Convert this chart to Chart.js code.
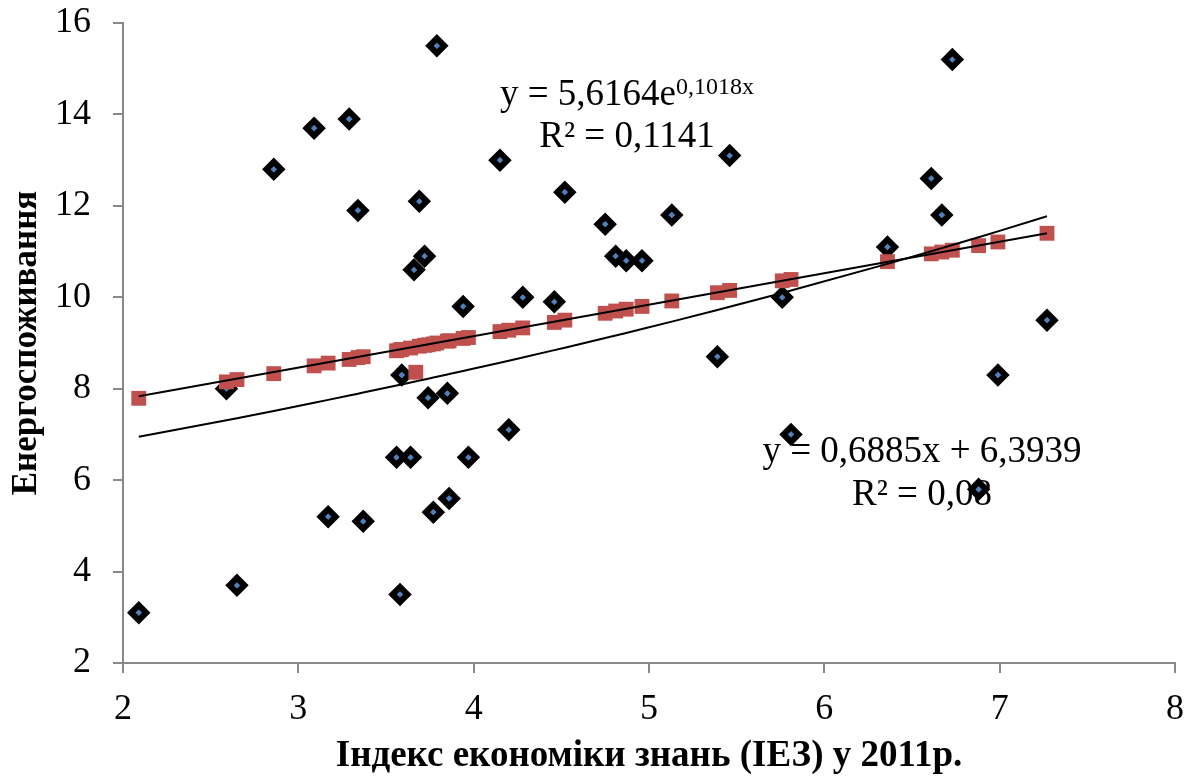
<!DOCTYPE html>
<html><head><meta charset="utf-8">
<script src="https://cdn.jsdelivr.net/npm/chart.js@4/dist/chart.umd.min.js"></script>
<style>html,body{margin:0;padding:0;background:#fff;overflow:hidden}</style>
</head><body>
<canvas id="c" width="1195" height="784"></canvas>
<script>
// Observed data: knowledge economy index (x) vs energy consumption (y)
const knowledgeIndex = [2.09,2.59,2.65,2.86,3.09,3.17,3.29,3.34,3.37,3.56,3.58,3.59,3.64,3.66,3.69,3.72,3.74,3.77,3.79,3.85,3.86,3.94,3.97,4.15,4.20,4.28,4.46,4.52,4.75,4.81,4.87,4.96,5.13,5.39,5.46,5.76,5.81,6.36,6.61,6.67,6.73,6.88,6.99,7.27];
const energyUse      = [3.1,8.0,3.7,12.8,13.7,5.2,13.9,11.9,5.1,6.5,3.5,8.3,6.5,10.6,12.1,10.9,7.8,5.3,15.5,7.9,5.6,9.8,6.5,13.0,7.1,10.0,9.9,12.3,11.6,10.9,10.8,10.8,11.8,8.7,13.1,10.0,7.0,11.1,12.6,11.8,15.2,5.8,8.3,9.5];
// Predicted values (red squares)
const predictedX = [2.09,2.59,2.65,2.86,3.09,3.17,3.29,3.34,3.37,3.56,3.58,3.59,3.64,3.67,3.69,3.72,3.74,3.77,3.79,3.85,3.86,3.94,3.97,4.15,4.20,4.28,4.46,4.52,4.75,4.81,4.87,4.96,5.13,5.39,5.46,5.76,5.81,6.36,6.61,6.67,6.73,6.88,6.99,7.27];
const predictedY = [7.79,8.15,8.20,8.33,8.50,8.56,8.64,8.68,8.70,8.83,8.85,8.86,8.89,8.36,8.93,8.95,8.96,8.98,9.00,9.04,9.05,9.10,9.12,9.25,9.28,9.33,9.45,9.50,9.65,9.70,9.74,9.80,9.92,10.10,10.15,10.36,10.39,10.78,10.95,10.99,11.03,11.13,11.21,11.40];
// Trendline coefficients shown on the chart
const expA = 5.6164, expB = 0.1018;
const linM = 0.6885, linC = 6.3939;
const xTicks = [2,3,4,5,6,7,8];
const yTicks = [2,4,6,8,10,12,14,16];
const expEqMain = 'y = 5,6164e', expEqSup = '0,1018x', expR2 = 'R² = 0,1141';
const linEq = 'y = 0,6885x + 6,3939', linR2 = 'R² = 0,08';
const xTitle = 'Індекс економіки знань (ІЕЗ) у 2011р.';
const yTitle = 'Енергоспоживання';

const FONT = '"Liberation Serif", "Times New Roman", serif';
const AXIS = '#898989';

const blue = knowledgeIndex.map((x,i)=>({x, y: energyUse[i]}));
const red = predictedX.map((x,i)=>({x, y: predictedY[i]}));
const xsSorted = [...new Set(knowledgeIndex)].sort((a,b)=>a-b);
const expLine = xsSorted.map(x=>({x, y: expA*Math.exp(expB*x)}));
const xMin = xsSorted[0], xMax = xsSorted[xsSorted.length-1];
const linLine = [{x:xMin, y: linM*xMin+linC},{x:xMax, y: linM*xMax+linC}];

const eqPlugin = {
  id: 'eqText',
  beforeDatasetsDraw(chart){
    const ctx = chart.ctx;
    ctx.save();
    ctx.fillStyle = '#000';
    ctx.textBaseline = 'alphabetic';
    const big = '37px ' + FONT, small = '24px ' + FONT;
    ctx.font = big; const w1 = ctx.measureText(expEqMain).width;
    ctx.font = small; const w2 = ctx.measureText(expEqSup).width;
    const cx = 627; const x0 = cx - (w1+w2)/2;
    ctx.textAlign = 'left';
    ctx.font = big; ctx.fillText(expEqMain, x0, 105);
    ctx.font = small; ctx.fillText(expEqSup, x0 + w1, 94);
    ctx.textAlign = 'center';
    ctx.font = big;
    ctx.fillText(expR2, cx, 147);
    ctx.fillText(linEq, 922, 462);
    ctx.fillText(linR2, 922, 505);
    ctx.restore();
  }
};

new Chart(document.getElementById('c'), {
  type: 'scatter',
  data: { datasets: [
    { label: 'exp', data: expLine, showLine: true, borderColor: '#000', borderWidth: 2, pointRadius: 0, fill: false, order: 0 },
    { label: 'lin', data: linLine, showLine: true, borderColor: '#000', borderWidth: 2, pointRadius: 0, fill: false, order: 1 },
    { label: 'pred', data: red, pointStyle: 'rect', pointRadius: 10.5, backgroundColor: '#C0504D', borderColor: '#C0504D', borderWidth: 0, order: 2 },
    { label: 'obs', data: blue, pointStyle: 'rectRot', pointRadius: 7.5, backgroundColor: '#4F81BD', borderColor: '#000', borderWidth: 6, order: 3 }
  ]},
  options: {
    responsive: false, animation: false,
    layout: { padding: { top: 23, right: 20, left: 0, bottom: 0 } },
    plugins: { legend: { display: false }, tooltip: { enabled: false } },
    scales: {
      x: {
        type: 'linear', min: 2, max: 8,
        afterBuildTicks: s => { s.ticks = xTicks.map(v=>({value:v})); },
        afterFit: s => { s.height = 121; s.paddingLeft = 0; s.paddingRight = 0; },
        ticks: { font: { family: FONT, size: 36 }, color: '#000', padding: 15 },
        grid: { drawOnChartArea: false, drawTicks: true, tickLength: 10, color: AXIS, lineWidth: 2 },
        border: { color: AXIS, width: 2 },
        title: { display: true, text: xTitle, color: '#000', font: { family: FONT, size: 37, weight: 'bold' }, padding: { top: 0, bottom: 5 } }
      },
      y: {
        type: 'linear', min: 2, max: 16,
        afterBuildTicks: s => { s.ticks = yTicks.map(v=>({value:v})); },
        afterFit: s => { s.width = 123; s.paddingTop = 0; s.paddingBottom = 0; },
        ticks: { font: { family: FONT, size: 36 }, color: '#000', padding: 22 },
        grid: { drawOnChartArea: false, drawTicks: true, tickLength: 10, color: AXIS, lineWidth: 2 },
        border: { color: AXIS, width: 2 },
        title: { display: true, text: yTitle, color: '#000', font: { family: FONT, size: 35, weight: 'bold' }, padding: { top: 6, bottom: 0 } }
      }
    }
  },
  plugins: [eqPlugin]
});
</script>
</body></html>
